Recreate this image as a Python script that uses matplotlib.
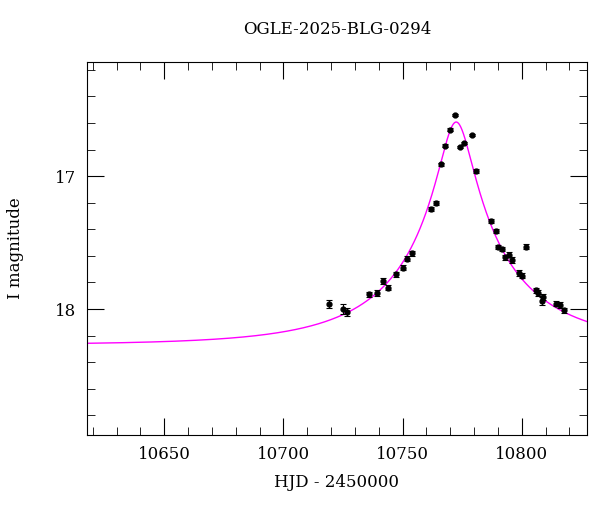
import numpy as np
import matplotlib
matplotlib.use("Agg")
import matplotlib.pyplot as plt
from matplotlib.ticker import MultipleLocator

hjd = [10719.0,10725.1,10726.8,10736.0,10739.1,10742.0,10744.0,10747.1,10750.0,10752.0,10753.9,
       10761.8,10763.9,10766.0,10767.9,10769.9,10772.0,10773.9,10775.9,10779.0,10781.0,10787.0,
       10789.0,10790.0,10791.8,10793.1,10794.8,10795.9,10799.0,10800.1,10802.0,10806.0,10806.9,
       10808.3,10809.1,10814.2,10816.1,10817.8]
mag = [17.96,18.00,18.02,17.89,17.88,17.79,17.84,17.74,17.69,17.62,17.58,
       17.25,17.20,16.91,16.77,16.65,16.54,16.78,16.75,16.69,16.96,17.34,
       17.41,17.53,17.55,17.61,17.59,17.63,17.73,17.75,17.53,17.86,17.88,
       17.94,17.91,17.96,17.97,18.01]
err = [0.03,0.04,0.03,0.02,0.02,0.02,0.02,0.02,0.02,0.02,0.02,
       0.015,0.015,0.01,0.01,0.01,0.01,0.01,0.01,0.01,0.015,0.015,
       0.015,0.015,0.015,0.02,0.02,0.02,0.02,0.02,0.02,0.02,0.02,
       0.03,0.02,0.02,0.02,0.02]

# PSPL model parameters
t0, tE, u0, fs, m0 = 10772.5, 56.0, 0.12, 0.5, 18.27

plt.rcParams["font.family"] = "DejaVu Serif"
fig = plt.figure(figsize=(6, 5.12), dpi=100)
ax = fig.add_axes([0.145, 0.150, 0.833, 0.729])

t = np.linspace(10600, 10840, 2000)
u = np.sqrt(u0**2 + ((t - t0) / tE)**2)
A = (u**2 + 2) / (u * np.sqrt(u**2 + 4))
model = m0 - 2.5 * np.log10(fs * A + 1 - fs)
ax.plot(t, model, color="#ff00ff", lw=1)
ax.errorbar(hjd, mag, yerr=err, fmt="o", color="black", ms=3.5, capsize=2.5, elinewidth=0.8, capthick=0.8)

ax.set_xlim(10617.6, 10827.3)
ax.set_ylim(18.95, 16.14)
ax.xaxis.set_major_locator(MultipleLocator(50))
ax.xaxis.set_minor_locator(MultipleLocator(10))
ax.yaxis.set_major_locator(MultipleLocator(1))
ax.yaxis.set_minor_locator(MultipleLocator(0.2))
ax.tick_params(which="both", direction="in", top=True, right=True, labelsize=12)
ax.tick_params(which="major", length=12, pad=8)
ax.tick_params(which="minor", length=6)
ax.set_xlabel("HJD - 2450000", fontsize=12, labelpad=8)
ax.set_ylabel("I magnitude", fontsize=12, labelpad=22)
ax.set_title("OGLE-2025-BLG-0294", fontsize=12, pad=20)
fig.savefig("out.png")
